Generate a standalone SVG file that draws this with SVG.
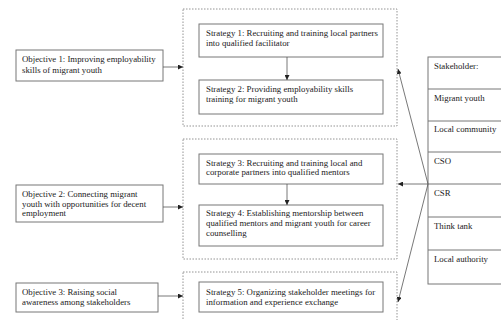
<svg xmlns="http://www.w3.org/2000/svg" width="501" height="320" viewBox="0 0 501 320">
<style>
.box{fill:#fff;stroke:#777;stroke-width:1}
.grp{fill:none;stroke:#888;stroke-width:0.9;stroke-dasharray:1.5,1.5}
.t{font-family:"Liberation Serif","Times New Roman",serif;font-size:8.8px;fill:#222}
.c{stroke:#555;stroke-width:0.8;fill:none}
</style>
<defs>
<marker id="ah" viewBox="0 0 6 6" refX="6" refY="3" markerWidth="5" markerHeight="5" orient="auto" markerUnits="userSpaceOnUse">
<path d="M0,0 L6,3 L0,6 z" fill="#222"/>
</marker>
</defs>
<rect width="501" height="320" fill="#fff"/>
<g id="group1"><rect class="grp" x="183" y="9" width="214" height="117"/></g>
<g id="group2"><rect class="grp" x="183" y="139" width="214" height="120"/></g>
<g id="group3"><rect class="grp" x="183" y="272" width="214" height="60"/></g>
<g id="obj1"><rect class="box" x="16" y="50" width="147" height="31"/>
<text class="t" x="22" y="62">Objective 1: Improving employability</text>
<text class="t" x="22" y="73">skills of migrant youth</text></g>
<g id="obj2"><rect class="box" x="16" y="185" width="147" height="37"/>
<text class="t" x="22" y="197">Objective 2: Connecting migrant</text>
<text class="t" x="22" y="207">youth with opportunities for decent</text>
<text class="t" x="22" y="216">employment</text></g>
<g id="obj3"><rect class="box" x="16" y="283" width="142" height="29"/>
<text class="t" x="22" y="295">Objective 3: Raising social</text>
<text class="t" x="22" y="305">awareness among stakeholders</text></g>
<g id="str1"><rect class="box" x="199" y="24" width="184" height="33"/>
<text class="t" x="206" y="36">Strategy 1: Recruiting and training local partners</text>
<text class="t" x="206" y="46">into qualified facilitator</text></g>
<g id="str2"><rect class="box" x="199" y="80" width="184" height="34"/>
<text class="t" x="206" y="92">Strategy 2: Providing employability skills</text>
<text class="t" x="206" y="102">training for migrant youth</text></g>
<g id="str3"><rect class="box" x="199" y="154" width="184" height="30"/>
<text class="t" x="206" y="166">Strategy 3: Recruiting and training local and</text>
<text class="t" x="206" y="175">corporate partners  into qualified mentors</text></g>
<g id="str4"><rect class="box" x="199" y="205" width="184" height="41"/>
<text class="t" x="206" y="216">Strategy 4: Establishing mentorship between</text>
<text class="t" x="206" y="226">qualified mentors and migrant youth for career</text>
<text class="t" x="206" y="236">counselling</text></g>
<g id="str5"><rect class="box" x="199" y="282" width="184" height="30"/>
<text class="t" x="206" y="295">Strategy 5: Organizing stakeholder meetings for</text>
<text class="t" x="206" y="305">information and experience exchange</text></g>
<g id="stakeholders">
<rect class="box" x="428" y="57" width="90" height="227"/>
<line class="box" x1="428" y1="89" x2="518" y2="89"/>
<line class="box" x1="428" y1="121" x2="518" y2="121"/>
<line class="box" x1="428" y1="152" x2="518" y2="152"/>
<line class="box" x1="428" y1="184" x2="518" y2="184"/>
<line class="box" x1="428" y1="217" x2="518" y2="217"/>
<line class="box" x1="428" y1="250" x2="518" y2="250"/>
<text class="t" x="434" y="69">Stakeholder:</text>
<text class="t" x="434" y="101">Migrant youth</text>
<text class="t" x="434" y="132">Local community</text>
<text class="t" x="434" y="164">CSO</text>
<text class="t" x="434" y="196">CSR</text>
<text class="t" x="434" y="229">Think tank</text>
<text class="t" x="434" y="262">Local authority</text>
</g>
<g id="connectors">
<line class="c" x1="163" y1="67" x2="183" y2="67" marker-end="url(#ah)"/>
<line class="c" x1="163" y1="207" x2="183" y2="207" marker-end="url(#ah)"/>
<line class="c" x1="158" y1="296" x2="183" y2="296" marker-end="url(#ah)"/>
<line class="c" x1="287" y1="57" x2="287" y2="80" marker-end="url(#ah)"/>
<line class="c" x1="287" y1="184" x2="287" y2="205" marker-end="url(#ah)"/>
<line class="c" x1="428" y1="184" x2="398" y2="69" marker-end="url(#ah)"/>
<line class="c" x1="428" y1="184" x2="398" y2="184" marker-end="url(#ah)"/>
<line class="c" x1="428" y1="184" x2="398" y2="302" marker-end="url(#ah)"/>
</g>
</svg>
